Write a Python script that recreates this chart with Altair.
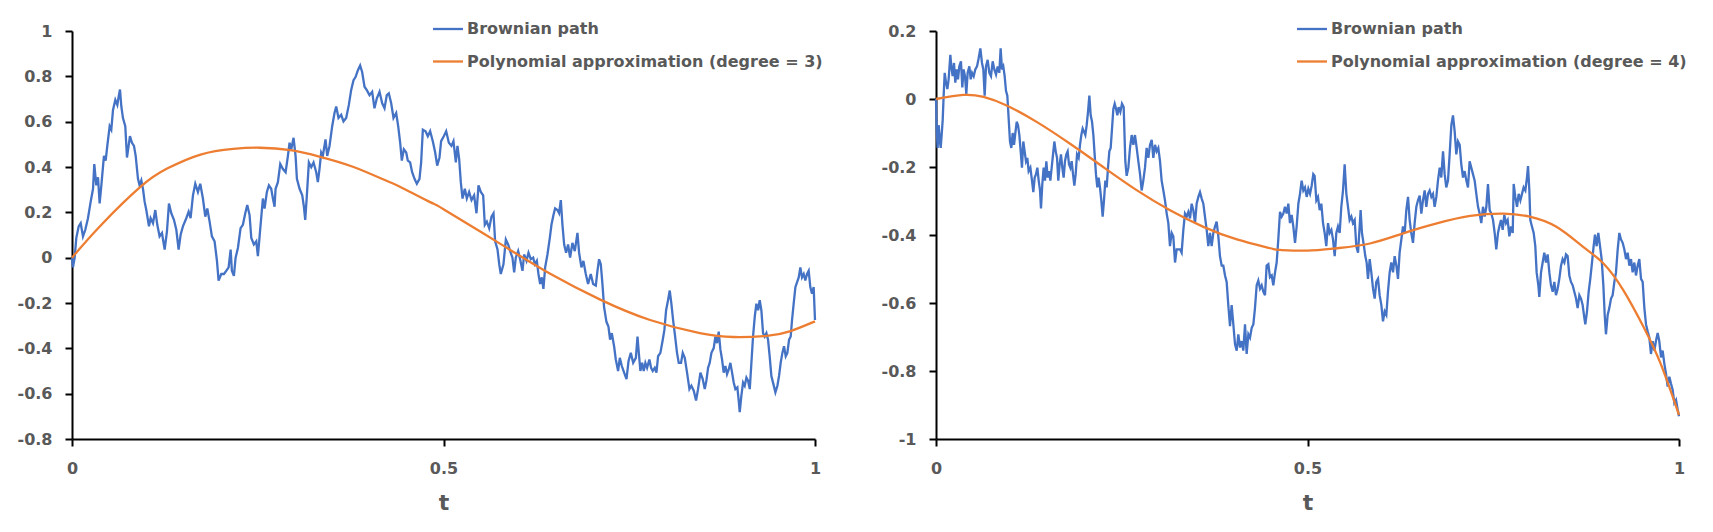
import altair as alt
import pandas as pd

# ---------------- left panel: Brownian path and cubic fit ----------------
left_t = [
    0, .0013, .0036, .0058, .0090, .0117, .0148, .0179, .0215, .0251, .0283, .0300, .0327, .0350, .0372,
    .0395, .0430, .0453, .0475, .0507, .0529, .0552, .0583, .0610, .0628, .0646, .0664, .0686, .0717,
    .0740, .0762, .0780, .0807, .0834, .0857, .0888, .0910, .0933, .0955, .0978, .1000, .1036, .1058,
    .1090, .1121, .1148, .1179, .1211, .1247, .1278, .1305, .1336, .1372, .1404, .1435, .1462, .1493,
    .1538, .1570, .1596, .1628, .1659, .1695, .1726, .1762, .1794, .1821, .1852, .1883, .1919, .1951,
    .1973, .2009, .2045, .2076, .2108, .2135, .2152, .2179, .2202, .2233, .2269, .2300, .2332, .2359,
    .2390, .2413, .2448, .2480, .2502, .2525,
    .2569, .2592, .2623, .2650, .2681, .2704, .2726, .2740, .2771, .2803, .2839, .2875, .2906, .2928,
    .2951, .2982, .3009, .3027, .3063, .3099, .3121, .3139, .3161, .3188, .3220, .3251, .3287, .3309,
    .3331, .3354, .3376, .3412, .3435, .3466, .3502, .3533, .3556, .3587, .3623, .3654, .3690, .3726,
    .3757, .3789, .3816, .3847, .3878, .3905, .3937, .3968, .4004, .4040, .4071, .4103, .4139, .4175,
    .4206, .4237, .4264, .4296, .4327, .4363, .4390, .4417, .4439, .4466, .4498, .4520, .4551, .4578,
    .4610, .4641, .4677, .4699, .4722, .4758, .4789, .4820, .4856, .4888, .4915, .4946, .4968, .5004,
    .5036, .5072,
    .5107, .5134, .5166, .5188, .5211, .5233, .5256, .5287, .5314, .5345, .5377, .5412, .5444, .5471,
    .5502, .5534, .5556, .5583, .5615, .5646, .5673, .5695, .5727, .5750, .5771, .5807, .5839, .5870,
    .5897, .5928, .5951, .5973, .6005, .6031, .6063, .6085, .6117, .6144, .6175, .6207, .6229, .6256,
    .6278, .6301, .6323, .6345, .6368, .6399, .6431, .6453, .6480, .6502, .6534, .6556, .6579, .6601,
    .6624, .6650, .6677, .6704, .6735, .6767, .6803, .6825, .6856, .6883, .6915, .6946, .6982, .7014,
    .7050, .7072, .7094, .7117, .7139, .7161, .7193, .7220, .7242, .7265, .7296, .7319, .7350, .7373,
    .7400, .7431, .7463, .7490, .7521, .7553, .7589, .7611,
    .7627, .7650, .7673, .7695, .7717, .7740, .7771, .7794, .7816, .7843, .7866, .7888, .7919, .7951,
    .7973, .7996, .8022, .8045, .8067, .8090, .8112, .8143, .8166, .8197, .8220, .8247, .8278, .8310,
    .8336, .8368, .8399, .8426, .8458, .8489, .8516, .8538, .8561, .8583, .8606, .8637, .8659, .8682,
    .8704, .8727, .8749, .8771, .8794, .8816, .8839, .8861, .8884, .8906, .8928, .8955, .8973, .8987,
    .9009, .9032, .9054, .9077, .9099, .9122, .9144, .9166, .9189, .9211, .9234, .9256, .9278, .9301,
    .9323, .9346, .9368, .9390, .9413, .9440, .9467, .9494, .9516, .9538, .9561, .9583, .9606, .9628,
    .9651, .9673, .9691, .9713, .9736, .9758, .9781, .9803, .9825, .9848, .9870, .9893, .9915, .9937,
    .9960, .9982, 1.0,
]
left_w = [
    0, -.043, .000, .087, .138, .152, .094, .123, .174, .246, .304, .413, .319, .355, .239,
    .319, .449, .428, .493, .580, .565, .652, .696, .674, .710, .742, .667, .616, .580,
    .442, .493, .536, .507, .493, .449, .348, .319, .341, .304, .246, .210, .138, .174,
    .152, .210, .145, .094, .109, .036, .116, .239, .196, .167, .123, .036, .101, .138,
    .174, .203, .174, .275, .326, .290, .326, .261, .181, .217, .159, .094, .072, -.014,
    -.101, -.072, -.072, -.058, -.043, .036, -.058, -.080, .000, .043, .130, .145, .196, .232,
    .188, .087, .058, .072, .007, .094,
    .261, .217, .290, .319, .304, .261, .225, .304, .333, .413, .391, .377, .449, .507,
    .478, .529, .449, .348, .304, .275, .225, .167, .275, .420, .399, .420, .377, .333,
    .391, .464, .449, .522, .449, .493, .580, .638, .667, .616, .630, .601, .616, .674,
    .739, .783, .797, .826, .848, .819, .754, .739, .717, .732, .659, .703, .732, .681,
    .659, .717, .725, .681, .616, .638, .580, .507, .428, .478, .464, .428, .420, .377,
    .348, .326, .348, .420, .565, .558, .536, .558, .514, .464, .406, .442, .514, .536,
    .558, .507,
    .493, .514, .420, .493, .435, .333, .261, .304, .261, .290, .254, .275, .196, .319,
    .290, .275, .145, .159, .130, .181, .196, .072, .036, -.029, -.072, -.029, .080, .058,
    .029, .000, -.065, .000, .029, -.007, -.058, .014, -.014, .022, -.007, .000, -.029, -.014,
    -.072, -.116, -.087, -.138, -.043, .014, .087, .145, .188, .217, .210, .196, .254, .145,
    .058, .022, .058, .000, .065, .029, .109, .022, -.043, -.014, -.072, -.116, -.072, -.116,
    -.123, -.058, -.007, -.029, -.116, -.217, -.283, -.304, -.362, -.333, -.391, -.449, -.500, -.442,
    -.478, -.507, -.536, -.457, -.420, -.464, -.442, -.348,
    -.413, -.500, -.464, -.500, -.464, -.486, -.449, -.486, -.500, -.486, -.507, -.435, -.420, -.362,
    -.319, -.232, -.188, -.145, -.203, -.275, -.333, -.420, -.464, -.464, -.420, -.442, -.507, -.580,
    -.565, -.587, -.630, -.580, -.507, -.536, -.580, -.543, -.486, -.464, -.420, -.399, -.348, -.377,
    -.326, -.406, -.449, -.507, -.478, -.514, -.493, -.464, -.507, -.551, -.580, -.572, -.630, -.681,
    -.609, -.551, -.565, -.529, -.543, -.580, -.464, -.348, -.261, -.203, -.232, -.188, -.232, -.333,
    -.348, -.333, -.362, -.435, -.522, -.558, -.594, -.565, -.522, -.464, -.420, -.391, -.435, -.420,
    -.362, -.348, -.275, -.203, -.130, -.109, -.087, -.043, -.087, -.072, -.101, -.072, -.058, -.130,
    -.159, -.130, -.275,
]
left_fit_t = [0, .038, .092, .128, .173, .217, .253, .294, .334, .379, .424, .442, .482, .5,
              .576, .643, .711, .778, .845, .89, .935, .966, 1.0]
left_fit_v = [0, .140, .312, .393, .455, .480, .485, .474, .445, .400, .338, .312, .245, .214,
              .062, -.070, -.185, -.275, -.333, -.350, -.345, -.325, -.281]

# ---------------- right panel: Brownian path and quartic fit ----------------
right_t = [
    0, .0009, .0022, .0036, .0049, .0063, .0076, .0090, .0103, .0117, .0135, .0153, .0170, .0193,
    .0206, .0224, .0242, .0260, .0278, .0296, .0314, .0336, .0354, .0372, .0390, .0408, .0426, .0449,
    .0467, .0485, .0507, .0529, .0552, .0574, .0597, .0619, .0637, .0655, .0673, .0695, .0718, .0740,
    .0763, .0785, .0808, .0830, .0852, .0870, .0888, .0906, .0924, .0942, .0960, .0978, .0996, .1014,
    .1032, .1050, .1068, .1086, .1104, .1122, .1140, .1157, .1175, .1193, .1211, .1229, .1247, .1270,
    .1292, .1310, .1328, .1346, .1364, .1382, .1400, .1413, .1431, .1449, .1467, .1485, .1503, .1521,
    .1539, .1557, .1575, .1593, .1611, .1629, .1646, .1664, .1682, .1700, .1718, .1736, .1754, .1772,
    .1790, .1808, .1826, .1844, .1862, .1880, .1898, .1920, .1938, .1956, .1974, .1992, .2010, .2028,
    .2046, .2064, .2082, .2100, .2118, .2135, .2153, .2171, .2189, .2207, .2225, .2243, .2261, .2279,
    .2297, .2315, .2333, .2351, .2369, .2387, .2405, .2423, .2441, .2458, .2481, .2503, .2526, .2548,
    .2566, .2589, .2611, .2634, .2656, .2678, .2701, .2723, .2746, .2768, .2790, .2813, .2835, .2858,
    .2880, .2903, .2925, .2948, .2970, .2992, .3015, .3037, .3060, .3082, .3105, .3127, .3149, .3172,
    .3194, .3217, .3239, .3262, .3284, .3306, .3329, .3351, .3374, .3396, .3419, .3441, .3463, .3486,
    .3508, .3531, .3553, .3576, .3598, .3620, .3643, .3665, .3688, .3710, .3733, .3755, .3777, .3800,
    .3822, .3845, .3867, .3890, .3912, .3934, .3957, .3979, .4002, .4024, .4047, .4069, .4092, .4114,
    .4136, .4159, .4181, .4204, .4226, .4249, .4271, .4293, .4316, .4338, .4361, .4383, .4406, .4428,
    .4450, .4473, .4495, .4518, .4540, .4563, .4585, .4607, .4630, .4652, .4675, .4697, .4720, .4742,
    .4764, .4787, .4809, .4832, .4854, .4877, .4899, .4921, .4944, .4966, .4989, .5011, .5034, .5056,
    .5078,
    .5096, .5119, .5141, .5164, .5186, .5209, .5231, .5253, .5276, .5298, .5321, .5343, .5366, .5388,
    .5410, .5433, .5455, .5478, .5500, .5523, .5545, .5567, .5590, .5612, .5635, .5657, .5680, .5702,
    .5715, .5733, .5760, .5778, .5796, .5814, .5837, .5859, .5882, .5904, .5926, .5949, .5971, .5994,
    .6016, .6039, .6061, .6083, .6106, .6128, .6151, .6173, .6196, .6218, .6240, .6263, .6285, .6308,
    .6330, .6353, .6375, .6397, .6420, .6442, .6465, .6487, .6510, .6532, .6554, .6577, .6599, .6622,
    .6644, .6667, .6689, .6711, .6734, .6756, .6779, .6801, .6824, .6846, .6868, .6891, .6913, .6936,
    .6958, .6981, .7003, .7025, .7048, .7070, .7093, .7115, .7138, .7160, .7182, .7205, .7227, .7250,
    .7272, .7295, .7317, .7339, .7362, .7384, .7407, .7429, .7452, .7474, .7497, .7519, .7541, .7564,
    .7582, .7604, .7627, .7649, .7672, .7694, .7717, .7739, .7762, .7775, .7797, .7820, .7842, .7865,
    .7887, .7909, .7932, .7954, .7968, .7986, .7999, .8021, .8044, .8066, .8084, .8107, .8120, .8143,
    .8165, .8187, .8210, .8232, .8255, .8277, .8300, .8322, .8344, .8367, .8389, .8412, .8434, .8457,
    .8479, .8501, .8524, .8546, .8569, .8591, .8614, .8636, .8659, .8681, .8703, .8726, .8739, .8762,
    .8784, .8806, .8829, .8851, .8869, .8892, .8914, .8937, .8959, .8982, .9000, .9017, .9040, .9062,
    .9085, .9107, .9130, .9152, .9175, .9197, .9219, .9242, .9264, .9287, .9309, .9332, .9354, .9376,
    .9399, .9421, .9444, .9466, .9489, .9511, .9534, .9556, .9578, .9601, .9623, .9646, .9668, .9690,
    .9713, .9735, .9758, .9780, .9803, .9825, .9847, .9870, .9892, .9915, .9937, .9960, .9982, 1.0,
]
right_w = [
    0, -.087, -.144, -.077, -.115, -.144, -.106, -.062, .010, .077, .048, .029, .058, .130,
    .096, .067, .106, .048, .087, .058, .096, .111, .034, .087, .067, .015, .077, .096,
    .058, .077, .067, .087, .096, .120, .149, .106, .087, .010, .096, .115, .077, .067,
    .111, .087, .072, .096, .077, .149, .087, .096, .067, .024, .010, -.058, -.125, -.144,
    -.100, -.135, -.100, -.067, -.077, -.106, -.154, -.202, -.125, -.154, -.183, -.173, -.212, -.202,
    -.240, -.274, -.231, -.221, -.202, -.240, -.269, -.322, -.250, -.202, -.240, -.183, -.231, -.212,
    -.240, -.202, -.163, -.125, -.154, -.173, -.240, -.192, -.163, -.202, -.231, -.183, -.163, -.154,
    -.192, -.202, -.183, -.221, -.255, -.221, -.163, -.173, -.135, -.106, -.087, -.096, -.106, -.077,
    -.038, .010, -.048, -.067, -.106, -.163, -.221, -.260, -.231, -.260, -.298, -.346, -.298, -.240,
    -.260, -.202, -.154, -.144, -.087, -.029, -.014, -.029, -.048, -.024, -.038, -.014, -.024, -.183,
    -.226, -.202, -.144, -.106, -.135, -.106, -.144, -.183, -.221, -.269, -.240, -.202, -.144, -.173,
    -.135, -.120, -.173, -.135, -.154, -.144, -.183, -.240, -.269, -.298, -.337, -.365, -.433, -.394,
    -.404, -.481, -.442, -.442, -.442, -.452, -.385, -.337, -.346, -.332, -.351, -.308, -.327, -.365,
    -.308, -.288, -.274, -.293, -.308, -.346, -.385, -.433, -.394, -.433, -.394, -.375, -.361, -.404,
    -.462, -.490, -.490, -.519, -.538, -.606, -.668, -.606, -.663, -.721, -.740, -.692, -.731, -.712,
    -.740, -.663, -.750, -.692, -.702, -.673, -.663, -.615, -.548, -.534, -.558, -.548, -.567, -.577,
    -.490, -.486, -.524, -.519, -.548, -.510, -.481, -.413, -.332, -.346, -.337, -.317, -.337, -.308,
    -.365, -.341, -.375, -.423, -.375, -.308, -.279, -.240, -.269, -.260, -.288, -.264, -.279, -.255,
    -.221,
    -.226, -.298, -.288, -.327, -.308, -.365, -.394, -.433, -.365, -.394, -.385, -.413, -.462, -.394,
    -.375, -.394, -.317, -.269, -.192, -.279, -.317, -.356, -.346, -.365, -.356, -.433, -.452, -.375,
    -.327, -.394, -.433, -.462, -.481, -.529, -.471, -.510, -.558, -.587, -.538, -.529, -.577, -.606,
    -.654, -.625, -.635, -.567, -.510, -.481, -.510, -.462, -.490, -.529, -.452, -.413, -.375, -.394,
    -.327, -.288, -.356, -.394, -.423, -.365, -.317, -.298, -.284, -.337, -.298, -.269, -.317, -.279,
    -.269, -.288, -.279, -.317, -.288, -.240, -.202, -.231, -.154, -.221, -.260, -.240, -.163, -.077,
    -.048, -.096, -.163, -.125, -.135, -.192, -.231, -.212, -.240, -.260, -.183, -.202, -.221, -.240,
    -.279, -.317, -.337, -.365, -.317, -.346, -.317, -.250, -.327, -.337, -.356, -.394, -.442, -.394,
    -.375, -.356, -.385, -.341, -.365, -.356, -.404, -.375, -.394, -.250, -.288, -.317, -.279, -.298,
    -.279, -.260, -.269, -.231, -.197, -.269, -.356, -.375, -.394, -.433, -.510, -.548, -.582, -.510,
    -.481, -.452, -.481, -.457, -.510, -.548, -.567, -.538, -.577, -.558, -.529, -.490, -.471, -.481,
    -.457, -.462, -.519, -.538, -.548, -.567, -.587, -.615, -.577, -.587, -.606, -.644, -.663, -.625,
    -.567, -.529, -.481, -.433, -.399, -.433, -.394, -.433, -.471, -.548, -.635, -.692, -.635, -.615,
    -.587, -.577, -.538, -.510, -.442, -.394, -.413, -.423, -.442, -.471, -.452, -.490, -.471, -.510,
    -.481, -.519, -.490, -.471, -.529, -.538, -.615, -.663, -.683, -.702, -.750, -.712, -.740, -.712,
    -.688, -.712, -.760, -.740, -.779, -.808, -.846, -.817, -.837, -.856, -.894, -.885, -.913, -.933,
]
right_fit_t = [0, .037, .064, .095, .136, .180, .225, .270, .315, .360, .405, .450, .463, .499,
               .539, .584, .629, .674, .719, .764, .799, .835, .871, .898, .925, .952, .975, 1.0]
right_fit_v = [0, .012, .006, -.019, -.068, -.131, -.200, -.268, -.327, -.376, -.413, -.439, -.444,
               -.446, -.439, -.425, -.395, -.366, -.344, -.337, -.346, -.376, -.435, -.483, -.562,
               -.669, -.777, -.929]

BLUE = "#4472C4"
ORANGE = "#ED7D31"
GREY = "#595959"
FONT = "DejaVu Sans"

W, H = 743, 408


def panel(path_t, path_w, fit_t, fit_v, y_dom, y_ticks, fit_label):
    path = pd.DataFrame({"t": path_t, "w": path_w})
    fit = pd.DataFrame({"t": fit_t, "w": fit_v})

    x = alt.X(
        "t:Q",
        scale=alt.Scale(domain=[0, 1], nice=False, zero=False),
        axis=alt.Axis(
            values=[0, 0.5, 1], labelExpr="toString(datum.value)", title="t", grid=False,
            domainColor="black", domainWidth=2, tickColor="black", tickWidth=2, tickSize=7,
            labelPadding=14, labelFlush=False, labelFont=FONT, labelFontSize=16,
            labelFontWeight="bold", labelColor=GREY, titleFont=FONT, titleFontSize=22,
            titleFontWeight="bold", titleColor=GREY, titlePadding=16,
        ),
    )
    y = alt.Y(
        "w:Q",
        scale=alt.Scale(domain=y_dom, nice=False, zero=False),
        axis=alt.Axis(
            values=y_ticks, labelExpr="toString(datum.value)", title=None, grid=False,
            domainColor="black", domainWidth=2, tickColor="black", tickWidth=2, tickSize=7,
            labelPadding=13, labelFlush=False, labelFont=FONT, labelFontSize=16,
            labelFontWeight="bold", labelColor=GREY,
        ),
    )

    walk = alt.Chart(path).mark_line(color=BLUE, strokeWidth=2.3).encode(x=x, y=y)
    curve = alt.Chart(fit).mark_line(color=ORANGE, strokeWidth=2.3, interpolate="natural").encode(x=x, y=y)

    layers = [walk, curve]
    # legend: short coloured stroke followed by its label
    for label, colour, ypos in [("Brownian path", BLUE, -2), (fit_label, ORANGE, 30.5)]:
        key = alt.Chart(pd.DataFrame({"label": [label]}))
        layers.append(key.mark_rule(color=colour, strokeWidth=2.3).encode(
            x=alt.value(361), x2=alt.value(391), y=alt.value(ypos)))
        layers.append(key.mark_text(align="left", baseline="middle", font=FONT, fontSize=16,
                                    fontWeight="bold", color=GREY).encode(
            text="label:N", x=alt.value(395), y=alt.value(ypos)))

    return alt.layer(*layers).properties(width=W, height=H)


left = panel(left_t, left_w, left_fit_t, left_fit_v, [-0.8, 1],
             [-0.8, -0.6, -0.4, -0.2, 0, 0.2, 0.4, 0.6, 0.8, 1],
             "Polynomial approximation (degree = 3)")
right = panel(right_t, right_w, right_fit_t, right_fit_v, [-1, 0.2],
              [-1, -0.8, -0.6, -0.4, -0.2, 0, 0.2],
              "Polynomial approximation (degree = 4)")

chart = alt.hconcat(left, right, spacing=121, bounds="flush").properties(
    padding={"left": 17, "top": 21, "right": 5, "bottom": 5},
    background="white",
).configure_view(stroke=None)

chart.save("out.html", embed_options={"renderer": "svg", "actions": False})
